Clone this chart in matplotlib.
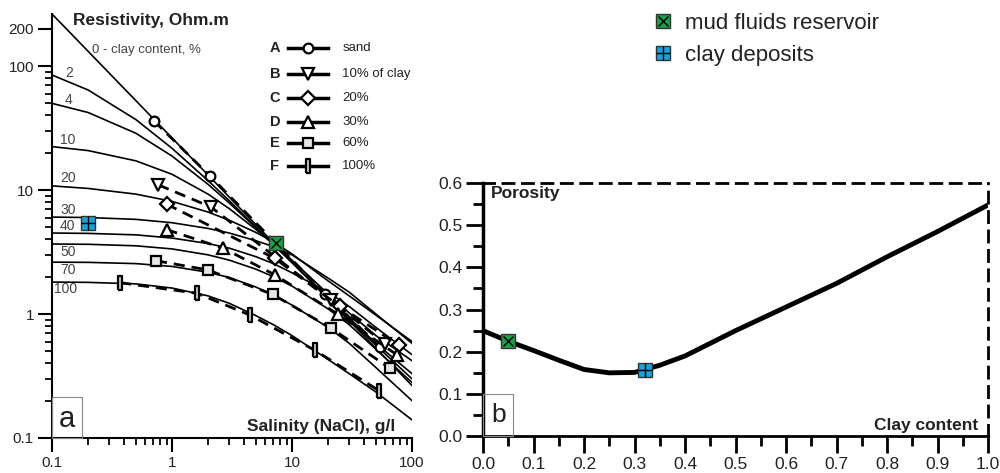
import numpy as np
import matplotlib
matplotlib.use('Agg')
import matplotlib.pyplot as plt
from matplotlib.lines import Line2D
from matplotlib.patches import Rectangle
from matplotlib.legend_handler import HandlerTuple
from matplotlib.ticker import LogLocator, NullFormatter, MultipleLocator, FormatStrFormatter

plt.rcParams['font.family'] = ['Liberation Sans', 'DejaVu Sans']

# ---- panel a: model curves, resistivity (Ohm.m) vs salinity (g/l)
salinity = [0.1, 0.2, 0.5, 1, 2, 3, 5, 7, 10, 20, 30, 50, 100]
clay_labels = ['2', '4', '10', '20', '30', '40', '50', '70', '100']

rho_0 = [263, 131.5, 52.6, 26.3, 13.2, 8.77, 5.26, 3.76, 2.63, 1.32, 0.88, 0.53, 0.265]
rho_2 = [84.7, 64.1, 37.0, 21.7, 11.9, 8.2, 5.05, 3.66, 2.6, 1.33, 0.9, 0.56, 0.3]
rho_4 = [50, 42.2, 28.7, 18.8, 11.1, 7.86, 4.97, 3.63, 2.6, 1.36, 0.93, 0.58, 0.33]
rho_10 = [22.4, 20.8, 17.2, 13.4, 9.26, 7.08, 4.81, 3.66, 2.72, 1.45, 1.02, 0.67, 0.42]
rho_20 = [10.8, 10.3, 9.27, 8.1, 6.64, 5.71, 4.55, 3.83, 3.05, 1.85, 1.4, 0.98, 0.6]
rho_30 = [6.05, 6.0, 5.8, 5.45, 4.9, 4.5, 3.9, 3.5, 3.0, 1.95, 1.5, 1.0, 0.58]
rho_40 = [4.5, 4.47, 4.35, 4.1, 3.7, 3.4, 2.9, 2.55, 2.15, 1.5, 1.15, 0.78, 0.47]
rho_50 = [3.67, 3.65, 3.55, 3.35, 3.0, 2.72, 2.3, 2.0, 1.68, 1.1, 0.82, 0.52, 0.28]
rho_70 = [2.62, 2.61, 2.55, 2.42, 2.17, 1.97, 1.65, 1.42, 1.18, 0.78, 0.58, 0.37, 0.2]
rho_100 = [1.81, 1.8, 1.75, 1.62, 1.4, 1.22, 0.97, 0.82, 0.67, 0.43, 0.33, 0.235, 0.14]

# measured samples
sal_A = [0.71, 2.07, 19, 54]
rho_A = [36, 13, 1.45, 0.54]
sal_B = [0.77, 2.11, 21, 60]
rho_B = [11, 7.3, 1.3, 0.57]
sal_C = [0.9, 7.2, 25, 78]
rho_C = [7.7, 2.81, 1.15, 0.56]
sal_D = [0.9, 2.68, 7.2, 24, 74.5]
rho_D = [4.8, 3.39, 2.07, 1.0, 0.47]
sal_E = [0.735, 1.98, 6.9, 21.1, 65.6]
rho_E = [2.69, 2.27, 1.44, 0.77, 0.365]
sal_F = [0.369, 1.61, 4.47, 15.5, 53.4]
rho_F = [1.79, 1.47, 0.98, 0.51, 0.24]

series_letters = ['A', 'B', 'C', 'D', 'E', 'F']
series_names = ['sand', '10% of clay', '20%', '30%', '60%', '100%']

mud_sal, mud_rho = 7.36, 3.72
clay_sal, clay_rho = 0.2, 5.4

# ---- panel b: porosity vs clay content
clay_frac = [0, 0.05, 0.1, 0.15, 0.2, 0.25, 0.3, 0.35, 0.4, 0.5, 0.6, 0.7, 0.8, 0.9, 1.0]
porosity = [0.25, 0.225, 0.203, 0.18, 0.158, 0.15, 0.151, 0.168, 0.19, 0.25, 0.306,
            0.362, 0.425, 0.485, 0.548]
mud_clay, mud_por = 0.05, 0.225
dep_clay, dep_por = 0.32, 0.157

GREEN = '#1e9e4a'
BLUE = '#1d9fd8'
TXT = '#222222'

bar = [(-0.35, -1), (0.35, -1), (0.35, 1), (-0.35, 1), (-0.35, -1)]
mstyle = [
    dict(marker='o', ms=7, mfc='white'),
    dict(marker='v', ms=9, mfc='white'),
    dict(marker='D', ms=7.5, mfc='white'),
    dict(marker='^', ms=9, mfc='white'),
    dict(marker='s', ms=7.5, mfc='#e6e6e6'),
    dict(marker=bar, ms=10, mfc='#cccccc'),
]


def main():
    fig = plt.figure(figsize=(10, 4.73), dpi=100)
    ax1 = fig.add_axes([0.052, 0.074, 0.36, 0.896])
    ax2 = fig.add_axes([0.483, 0.078, 0.505, 0.535])

    # ----- panel a
    ax1.set_xscale('log')
    ax1.set_yscale('log')
    ax1.set_xlim(0.1, 100)
    ax1.set_ylim(0.1, 262)

    for rho in [rho_0, rho_2, rho_4, rho_10, rho_20, rho_30, rho_40, rho_50, rho_70, rho_100]:
        ax1.plot(salinity, rho, color='black', lw=1.2, zorder=2)

    meas = [(sal_A, rho_A), (sal_B, rho_B), (sal_C, rho_C),
            (sal_D, rho_D), (sal_E, rho_E), (sal_F, rho_F)]
    for (s, r), st in zip(meas, mstyle):
        ax1.plot(s, r, color='black', lw=2, ls=(0, (4, 2.5)), mec='black',
                 mew=1.6, zorder=3, **st)

    ax1.plot(mud_sal, mud_rho, 's', ms=10, mfc=GREEN, mec='#333', mew=1, zorder=5)
    ax1.plot(mud_sal, mud_rho, 'x', ms=7, mec='black', mew=1, zorder=6)
    ax1.plot(clay_sal, clay_rho, 's', ms=10, mfc=BLUE, mec='#333', mew=1, zorder=5)
    ax1.plot(clay_sal, clay_rho, '+', ms=10, mec='black', mew=1, zorder=6)

    # legend of measured series
    rows = [0.920, 0.858, 0.802, 0.745, 0.696, 0.642]
    for y, letter, name, st in zip(rows, series_letters, series_names, mstyle):
        ax1.text(0.619, y, letter, transform=ax1.transAxes, ha='center', va='center',
                 fontsize=10.5, fontweight='bold', color=TXT)
        ax1.plot([0.656, 0.767], [y, y], transform=ax1.transAxes, color='black', lw=2.5,
                 clip_on=False)
        ax1.plot([0.711], [y], transform=ax1.transAxes, color='black', mec='black',
                 mew=1.6, clip_on=False, **st)
        ax1.text(0.806, y, name, transform=ax1.transAxes, ha='left', va='center',
                 fontsize=9.5, color=TXT)

    # curve labels
    label_pos = [(0.047, 0.861), (0.047, 0.797), (0.044, 0.703), (0.044, 0.613),
                 (0.044, 0.538), (0.044, 0.500), (0.044, 0.439), (0.044, 0.396),
                 (0.039, 0.351)]
    for (fx, fy), lab in zip(label_pos, clay_labels):
        ax1.text(fx, fy, lab, transform=ax1.transAxes, ha='center', va='center',
                 fontsize=10, color='#444')
    ax1.text(0.111, 0.915, '0 - clay content, %', transform=ax1.transAxes,
             ha='left', va='center', fontsize=9.5, color='#444')

    ax1.text(0.058, 0.986, 'Resistivity, Ohm.m', transform=ax1.transAxes,
             ha='left', va='center', fontsize=12.5, fontweight='bold', color=TXT)
    ax1.text(0.953, 0.028, 'Salinity (NaCl), g/l', transform=ax1.transAxes,
             ha='right', va='center', fontsize=12.5, fontweight='bold', color=TXT)

    ax1.add_patch(Rectangle((0.1, 0.1), 0.078, 0.114, fill=False, ec='#888', lw=0.8,
                            clip_on=False, zorder=4))
    ax1.text(0.133, 0.143, 'a', ha='center', va='center', fontsize=21, color=TXT)

    for side in ['top', 'right']:
        ax1.spines[side].set_visible(False)
    for side in ['left', 'bottom']:
        ax1.spines[side].set_linewidth(1.5)

    ax1.set_xticks([0.1, 1, 10, 100])
    ax1.set_xticklabels(['0.1', '1', '10', '100'])
    ax1.set_yticks([0.1, 1, 10, 100, 200])
    ax1.set_yticklabels(['0.1', '1', '10', '100', '200'])
    ax1.xaxis.set_minor_locator(LogLocator(base=10, subs=np.arange(2, 10)))
    ax1.yaxis.set_minor_locator(LogLocator(base=10, subs=np.arange(2, 10)))
    ax1.xaxis.set_minor_formatter(NullFormatter())
    ax1.yaxis.set_minor_formatter(NullFormatter())
    ax1.tick_params(which='major', direction='out', length=10, width=1.5,
                    labelsize=11, labelcolor=TXT, pad=3)
    ax1.tick_params(which='minor', direction='out', length=5, width=1.3)

    # ----- panel b
    ax2.set_xlim(0, 1)
    ax2.set_ylim(0, 0.6)
    ax2.plot(clay_frac, porosity, color='black', lw=3.5, solid_capstyle='butt', zorder=3)
    ax2.plot(mud_clay, mud_por, 's', ms=10, mfc=GREEN, mec='#333', mew=1, zorder=5)
    ax2.plot(mud_clay, mud_por, 'x', ms=7, mec='black', mew=1, zorder=6)
    ax2.plot(dep_clay, dep_por, 's', ms=10, mfc=BLUE, mec='#333', mew=1, zorder=5)
    ax2.plot(dep_clay, dep_por, '+', ms=10, mec='black', mew=1, zorder=6)

    ax2.text(0.015, 0.96, 'Porosity', transform=ax2.transAxes, ha='left', va='center',
             fontsize=12.5, fontweight='bold', color=TXT)
    ax2.text(0.980, 0.043, 'Clay content', transform=ax2.transAxes, ha='right',
             va='center', fontsize=12.5, fontweight='bold', color=TXT)
    ax2.add_patch(Rectangle((0, 0), 0.06, 0.1, fill=False, ec='#888', lw=0.8,
                            clip_on=False, zorder=4))
    ax2.text(0.03, 0.05, 'b', ha='center', va='center', fontsize=19, color=TXT)

    ax2.spines['left'].set_linewidth(2.5)
    ax2.spines['bottom'].set_linewidth(2)
    for side in ['top', 'right']:
        ax2.spines[side].set_linewidth(2)
        ax2.spines[side].set_linestyle((0, (4, 3)))

    ax2.xaxis.set_major_locator(MultipleLocator(0.1))
    ax2.xaxis.set_minor_locator(MultipleLocator(0.05))
    ax2.yaxis.set_major_locator(MultipleLocator(0.1))
    ax2.yaxis.set_minor_locator(MultipleLocator(0.05))
    ax2.xaxis.set_major_formatter(FormatStrFormatter('%.1f'))
    ax2.yaxis.set_major_formatter(FormatStrFormatter('%.1f'))
    ax2.tick_params(which='major', direction='out', length=12, width=2,
                    labelsize=12.5, labelcolor=TXT, pad=3)
    ax2.tick_params(which='minor', direction='out', length=7, width=2)

    # ----- key of special points
    h_mud = (Line2D([], [], ls='none', marker='s', ms=10, mfc=GREEN, mec='#333', mew=1),
             Line2D([], [], ls='none', marker='x', ms=7, mec='black', mew=1))
    h_dep = (Line2D([], [], ls='none', marker='s', ms=10, mfc=BLUE, mec='#333', mew=1),
             Line2D([], [], ls='none', marker='+', ms=10, mec='black', mew=1))
    fig.legend([h_mud, h_dep], ['mud fluids reservoir', 'clay deposits'],
               handler_map={tuple: HandlerTuple(ndivide=1)},
               loc='upper left', bbox_to_anchor=(0.634, 1.015), frameon=False,
               fontsize=16, handlelength=0.8, handletextpad=0.6, labelspacing=0.5,
               labelcolor=TXT)

    fig.savefig('out.png', dpi=100)


if __name__ == "__main__":
    main()
